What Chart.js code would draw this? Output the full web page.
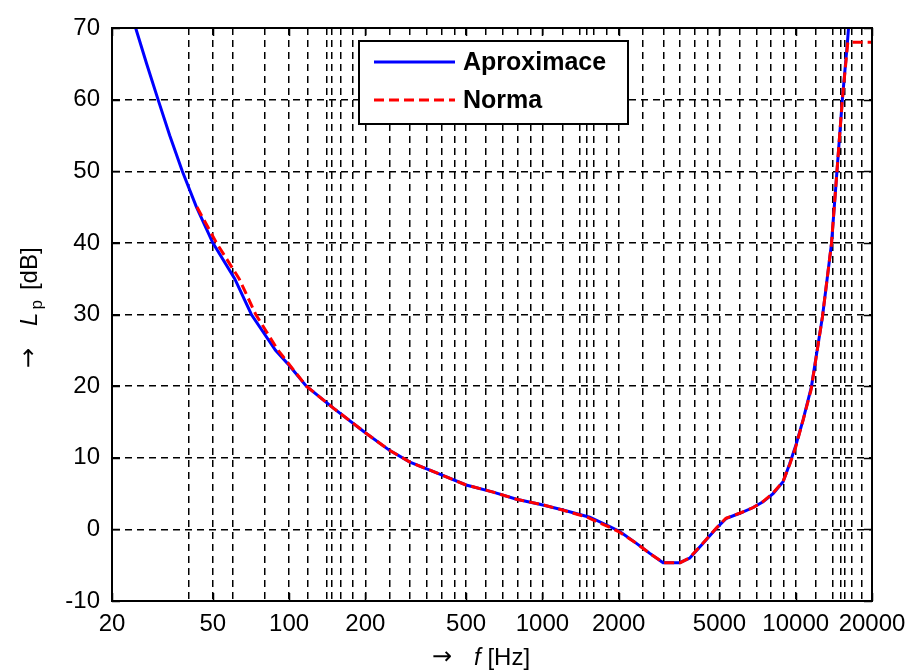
<!DOCTYPE html>
<html>
<head>
<meta charset="utf-8">
<script src="https://cdn.jsdelivr.net/npm/chart.js@4.4.1/dist/chart.umd.min.js"></script>
<style>
  body { margin: 0; background: #fff; }
  canvas { display: block; }
</style>
</head>
<body>
<canvas id="curveChart" width="909" height="672"></canvas>
<script>
// tick labels on the frequency axis
const freqLabels = [20, 50, 100, 200, 500, 1000, 2000, 5000, 10000, 20000];
// frequencies of the dashed vertical grid lines
const gridFreqs = [40, 50, 60, 80, 100, 119, 141, 147, 160, 178, 200, 250, 300, 350, 400, 450, 500,
  600, 700, 800, 900, 1000, 1200, 1400, 1500, 1600, 1800, 2000, 2500, 3000, 3500, 4000, 4500, 5000,
  6000, 7000, 8000, 9000, 10000, 12000, 14000, 15000, 15600, 16700, 18200];

// Aproximace (blue)
const approxFreq = [23, 24.8, 27.4, 30.4, 33.8, 37.9, 43.1, 50, 61, 71, 88.4, 100, 117, 150, 200, 250,
  300, 400, 500, 640, 790, 976, 1207, 1538, 1845, 2020, 2351, 2654, 2995, 3486, 3819, 4310, 4865, 5330,
  6017, 6788, 7430, 8140, 8914, 9473, 10064, 10690, 11530, 12750, 13840, 14560, 15290, 15990, 16400];
const approxLevel = [74, 70, 65, 60, 55, 50, 45, 40, 35, 30, 25, 22.9, 20, 16.9, 13.5, 11.0,
  9.4, 7.6, 6.2, 5.2, 4.2, 3.5, 2.7, 1.7, 0.4, -0.3, -1.95, -3.35, -4.65, -4.65, -4.0, -1.95, 0.15, 1.55,
  2.25, 3.05, 3.85, 5.0, 6.65, 9.2, 12.0, 15.3, 19.9, 29.7, 39.9, 50.2, 60.2, 67.9, 73];

// Norma (red dashed)
const normFreq = [43.3, 51.7, 63.5, 73.9, 90.5, 117, 150, 200, 250, 300, 400, 500, 640, 790, 1000, 1200,
  1500, 1800, 2000, 2350, 2650, 3000, 3500, 3800, 4300, 4850, 5300, 6000, 6800, 7400, 8100, 8900, 9500,
  10000, 10700, 11500, 12750, 13840, 14560, 15290, 16050, 20000];
const normLevel = [45, 40, 35, 30, 25, 20, 16.9, 13.5, 11.0, 9.4, 7.6, 6.2, 5.2, 4.2, 3.45, 2.7,
  1.7, 0.45, -0.3, -1.95, -3.35, -4.65, -4.65, -4.0, -1.95, 0.15, 1.55, 2.25, 3.05, 3.85, 5.0, 6.65, 9.2,
  11.5, 15.3, 19.5, 29.7, 39.9, 50.2, 60.2, 68, 68];

const toPoints = (xs, ys) => xs.map((x, i) => ({ x: x, y: ys[i] }));
const FONT = '"Liberation Sans", Arial, Helvetica, sans-serif';
const ARROW_FONT = '24px "DejaVu Sans", sans-serif';

const framePlugin = {
  id: 'frame',
  afterDraw(chart) {
    const ctx = chart.ctx;
    const a = chart.chartArea;
    const xs = chart.scales.x, ys = chart.scales.y;
    ctx.save();
    ctx.strokeStyle = '#000';
    ctx.lineWidth = 2;
    ctx.setLineDash([]);
    ctx.strokeRect(a.left, a.top, a.right - a.left, a.bottom - a.top);
    // inward tick marks
    ctx.lineWidth = 1.5;
    ctx.beginPath();
    freqLabels.forEach(f => {
      const px = Math.round(xs.getPixelForValue(f)) + 0.5;
      ctx.moveTo(px, a.bottom); ctx.lineTo(px, a.bottom - 8);
      ctx.moveTo(px, a.top); ctx.lineTo(px, a.top + 8);
    });
    ys.ticks.forEach(t => {
      const py = Math.round(ys.getPixelForValue(t.value)) + 0.5;
      ctx.moveTo(a.left, py); ctx.lineTo(a.left + 8, py);
      ctx.moveTo(a.right, py); ctx.lineTo(a.right - 8, py);
    });
    ctx.stroke();

    // legend box
    const lx = 359, ly = 41, lw = 269, lh = 83;
    ctx.fillStyle = '#fff';
    ctx.fillRect(lx, ly, lw, lh);
    ctx.lineWidth = 2;
    ctx.strokeRect(lx, ly, lw, lh);
    const rows = [62, 100];
    chart.data.datasets.forEach((ds, i) => {
      ctx.strokeStyle = ds.borderColor;
      ctx.lineWidth = 3;
      ctx.setLineDash(ds.borderDash || []);
      ctx.beginPath();
      ctx.moveTo(374, rows[i]); ctx.lineTo(455, rows[i]);
      ctx.stroke();
      ctx.setLineDash([]);
      ctx.fillStyle = '#000';
      ctx.font = 'bold 25px ' + FONT;
      ctx.textBaseline = 'middle';
      ctx.textAlign = 'left';
      ctx.fillText(ds.label, 463, rows[i] + 1);
    });

    // x axis title: → f [Hz]
    ctx.fillStyle = '#000';
    ctx.textBaseline = 'middle';
    ctx.textAlign = 'left';
    let x = 432;
    const ty = 658;
    ctx.font = ARROW_FONT;
    ctx.fillText('\u2192', x, ty); x += ctx.measureText('\u2192').width + 22;
    ctx.font = 'italic 24px ' + FONT;
    ctx.fillText('f', x, ty); x += ctx.measureText('f ').width;
    ctx.font = '24px ' + FONT;
    ctx.fillText('[Hz]', x, ty);

    // y axis title: → L_p [dB]
    ctx.translate(30, 368);
    ctx.rotate(-Math.PI / 2);
    let y = 0;
    ctx.font = ARROW_FONT;
    ctx.fillText('\u2192', y, 0); y += ctx.measureText('\u2192').width + 22;
    ctx.font = 'italic 24px ' + FONT;
    ctx.fillText('L', y, 0); y += ctx.measureText('L').width + 3;
    ctx.font = '17px ' + FONT;
    ctx.fillText('p', y, 7); y += ctx.measureText('p').width + 10;
    ctx.font = '24px ' + FONT;
    ctx.fillText('[dB]', y, 0);
    ctx.restore();
  }
};

new Chart(document.getElementById('curveChart'), {
  type: 'line',
  data: {
    datasets: [{
      label: 'Aproximace',
      data: toPoints(approxFreq, approxLevel),
      borderColor: '#0000ff',
      borderWidth: 3,
      pointRadius: 0,
      tension: 0,
      order: 2
    }, {
      label: 'Norma',
      data: toPoints(normFreq, normLevel),
      borderColor: '#ff0000',
      borderWidth: 3,
      borderDash: [10, 5],
      pointRadius: 0,
      tension: 0,
      order: 1
    }]
  },
  options: {
    responsive: false,
    animation: false,
    devicePixelRatio: 1,
    layout: { padding: { top: 28, right: 37, left: 0, bottom: 0 } },
    plugins: { legend: { display: false }, tooltip: { enabled: false } },
    scales: {
      x: {
        type: 'logarithmic',
        min: 20, max: 20000,
        afterBuildTicks: scale => {
          const vals = Array.from(new Set(gridFreqs.concat(freqLabels))).sort((p, q) => p - q);
          scale.ticks = vals.map(v => ({ value: v }));
        },
        afterFit: scale => {
          scale.height = 71;
          scale.paddingLeft = 0;
          scale.paddingRight = 0;
        },
        ticks: {
          autoSkip: false, maxRotation: 0, minRotation: 0, padding: 9,
          color: '#000', font: { family: FONT, size: 24 },
          callback: v => freqLabels.includes(v) ? String(v) : ''
        },
        grid: { color: '#000', lineWidth: 1.5, drawTicks: false },
        border: { display: true, color: '#000', width: 2, dash: [7, 5] }
      },
      y: {
        min: -10, max: 70,
        afterFit: scale => { scale.width = 112; },
        ticks: { stepSize: 10, padding: 12, color: '#000', font: { family: FONT, size: 24 } },
        grid: { color: '#000', lineWidth: 1.5, drawTicks: false },
        border: { display: true, color: '#000', width: 2, dash: [7, 5] }
      }
    }
  },
  plugins: [framePlugin]
});
</script>
</body>
</html>
